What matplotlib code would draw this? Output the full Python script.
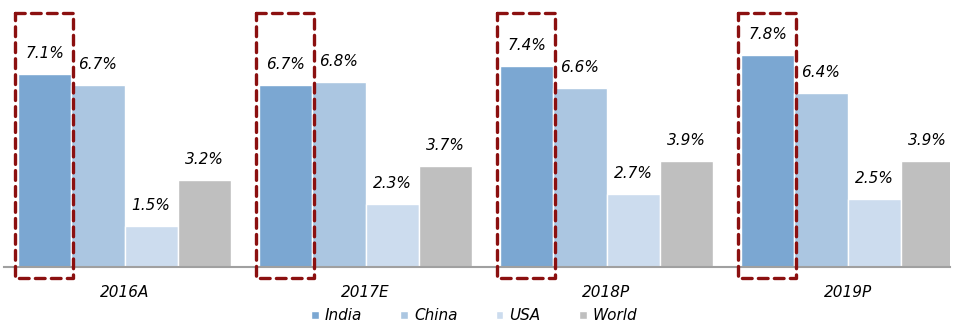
import numpy as np
import matplotlib.pyplot as plt

# Données
years = ['2016A', '2017E', '2018P', '2019P']
series = ['India', 'China', 'USA', 'World']
india = [7.1, 6.7, 7.4, 7.8]
china = [6.7, 6.8, 6.6, 6.4]
usa = [1.5, 2.3, 2.7, 2.5]
world = [3.2, 3.7, 3.9, 3.9]
colors = ['#7ba7d2', '#abc6e1', '#ccdcee', '#bfbfbf']

plt.rcParams['lines.scale_dashes'] = False

fig = plt.figure(figsize=(9.54, 3.24), dpi=100)
ax = fig.add_axes([4 / 954, 1 - 267 / 324, 946 / 954, 267 / 324])

x = np.arange(len(years))
w = 0.221
for i, (vals, name, c) in enumerate(zip([india, china, usa, world], series, colors)):
    pos = x + (i - 1.5) * w
    ax.bar(pos, vals, width=w, color=c, edgecolor='white', linewidth=1, label=name)
    for px, v in zip(pos, vals):
        ax.annotate(f'{v:.1f}%', (px, v), xytext=(0, 11.5), textcoords='offset points',
                    ha='center', va='baseline', fontsize=11, style='italic')

# Cadres en pointillés autour de l'Inde
for xi in x:
    left = xi - 2 * w - 0.0125
    right = left + w + 0.021
    bottom, top = -0.4, 9.34
    ax.plot([left, right, right, left, left], [top, top, bottom, bottom, top],
            color='#8b1010', linewidth=2.4, linestyle=(0, (7, 4.5)),
            dash_capstyle='round', solid_joinstyle='round', clip_on=False, zorder=5)

ax.set_xlim(-0.5, 3.425)
ax.set_ylim(0, 9.82)
ax.set_yticks([])
ax.set_xticks(x)
ax.set_xticklabels(years, fontsize=11, style='italic')
ax.tick_params(axis='x', length=0, pad=13)
for s in ['top', 'right', 'left']:
    ax.spines[s].set_visible(False)
ax.spines['bottom'].set_color('#a0a0a0')
ax.spines['bottom'].set_linewidth(1.5)

leg = fig.legend(loc='center', bbox_to_anchor=(0.497, 0.025), ncol=4, frameon=False,
                 prop={'size': 11, 'style': 'italic'}, handlelength=0.5, handleheight=0.5,
                 handletextpad=0.4, columnspacing=2.5)

fig.savefig('out.png', dpi=100)
